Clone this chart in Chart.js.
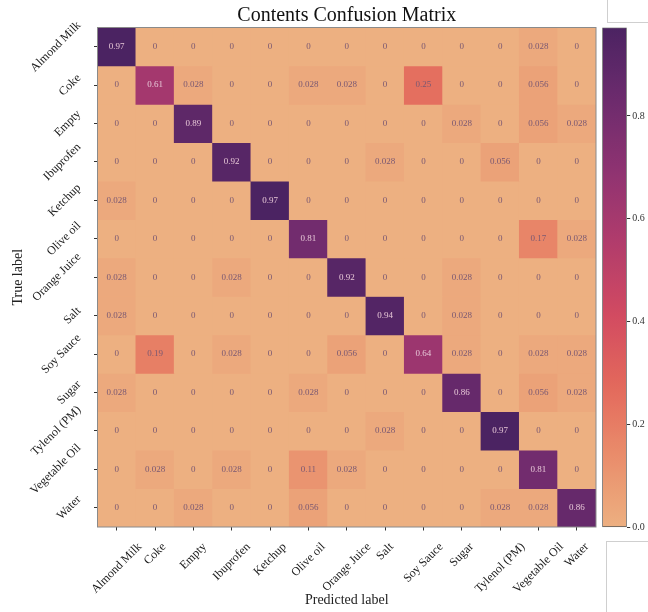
<!DOCTYPE html>
<html><head><meta charset="utf-8">
<script src="https://cdn.jsdelivr.net/npm/chart.js@4.4.1/dist/chart.umd.min.js"></script>
<style>
html,body{margin:0;padding:0;background:#fff;}
#wrap{position:relative;width:648px;height:612px;overflow:hidden;background:#fff;}
#main{position:absolute;left:0;top:0;}
#cbar{position:absolute;left:596px;top:0;}
.box1{position:absolute;left:607px;top:-2px;width:60px;height:24px;border-left:1px solid #cfcfcf;border-bottom:1px solid #cfcfcf;}
.box2{position:absolute;left:606px;top:541px;width:60px;height:90px;border-left:1px solid #cfcfcf;border-top:1px solid #cfcfcf;}
</style></head><body>
<div id="wrap">
<canvas id="main" width="648" height="612"></canvas>
<canvas id="cbar" width="52" height="612"></canvas>
<div class="box1"></div><div class="box2"></div>
</div>
<script>
// ---- data ----
const predictedLabels = ['Almond Milk','Coke','Empty','Ibuprofen','Ketchup','Olive oil','Orange Juice','Salt','Soy Sauce','Sugar','Tylenol (PM)','Vegetable Oil','Water'];
const trueLabels = ['Almond Milk','Coke','Empty','Ibuprofen','Ketchup','Olive oil','Orange Juice','Salt','Soy Sauce','Sugar','Tylenol (PM)','Vegetable Oil','Water'];
const rowAlmondMilk   = [0.97,0,0,0,0,0,0,0,0,0,0,0.028,0];
const rowCoke         = [0,0.61,0.028,0,0,0.028,0.028,0,0.25,0,0,0.056,0];
const rowEmpty        = [0,0,0.89,0,0,0,0,0,0,0.028,0,0.056,0.028];
const rowIbuprofen    = [0,0,0,0.92,0,0,0,0.028,0,0,0.056,0,0];
const rowKetchup      = [0.028,0,0,0,0.97,0,0,0,0,0,0,0,0];
const rowOliveOil     = [0,0,0,0,0,0.81,0,0,0,0,0,0.17,0.028];
const rowOrangeJuice  = [0.028,0,0,0.028,0,0,0.92,0,0,0.028,0,0,0];
const rowSalt         = [0.028,0,0,0,0,0,0,0.94,0,0.028,0,0,0];
const rowSoySauce     = [0,0.19,0,0.028,0,0,0.056,0,0.64,0.028,0,0.028,0.028];
const rowSugar        = [0.028,0,0,0,0,0.028,0,0,0,0.86,0,0.056,0.028];
const rowTylenol      = [0,0,0,0,0,0,0,0.028,0,0,0.97,0,0];
const rowVegetableOil = [0,0.028,0,0.028,0,0.11,0.028,0,0,0,0,0.81,0];
const rowWater        = [0,0,0.028,0,0,0.056,0,0,0,0,0.028,0.028,0.86];
const matrix = [rowAlmondMilk,rowCoke,rowEmpty,rowIbuprofen,rowKetchup,rowOliveOil,rowOrangeJuice,rowSalt,rowSoySauce,rowSugar,rowTylenol,rowVegetableOil,rowWater];
const cbTicks = [0,0.2,0.4,0.6,0.8];
const cbMax = 0.972;

// ---- style ----
const SERIF = '"Liberation Serif","DejaVu Serif",serif';
const FLARE = [[0,237,176,129],[0.143,233,141,107],[0.286,227,104,92],[0.429,209,74,97],[0.571,177,60,108],[0.714,143,51,113],[0.857,108,43,109],[1,75,35,98]];
function cmap(t){
  t = Math.max(0, Math.min(1, t));
  for (let i = 1; i < FLARE.length; i++) {
    if (t <= FLARE[i][0]) {
      const a = FLARE[i-1], b = FLARE[i];
      const f = (t - a[0]) / (b[0] - a[0]);
      const c = [1,2,3].map(k => Math.round(a[k] + (b[k]-a[k])*f));
      return `rgb(${c[0]},${c[1]},${c[2]})`;
    }
  }
  return 'rgb(75,35,98)';
}
function fmt(v){ return String(Number(v.toPrecision(2))); }

const decor = {
  id: 'decor',
  beforeDatasetsDraw(chart){
    const {ctx, chartArea:a} = chart;
    ctx.save(); ctx.fillStyle = cmap(0);
    ctx.fillRect(a.left, a.top, a.right-a.left, a.bottom-a.top);
    ctx.restore();
  },
  afterDatasetsDraw(chart){
    const {ctx, chartArea:a, scales:{x, y}} = chart;
    ctx.save();
    // annotations
    ctx.font = '9px ' + SERIF;
    ctx.textAlign = 'center'; ctx.textBaseline = 'middle';
    chart.data.datasets.forEach((ds, r) => {
      const meta = chart.getDatasetMeta(r);
      meta.data.forEach((el, c) => {
        const v = ds.values[c];
        ctx.fillStyle = v > 0.5 ? '#e6c6d6' : '#7a5872';
        ctx.fillText(fmt(v), el.x, (el.y + el.base)/2);
      });
    });
    // spine
    ctx.strokeStyle = '#8a8a8a'; ctx.lineWidth = 1;
    ctx.strokeRect(a.left, a.top, a.right-a.left, a.bottom-a.top);
    // tick labels
    ctx.font = '12px ' + SERIF; ctx.fillStyle = '#1a1a1a';
    const h = 12 * 1.05, s = Math.SQRT1_2;
    predictedLabels.forEach((lab, i) => {
      const w = ctx.measureText(lab).width;
      const cx = x.getPixelForValue(i);
      const cy = a.bottom + 13.5 + (w + h) * s / 2;
      ctx.save(); ctx.translate(cx, cy); ctx.rotate(-Math.PI/4);
      ctx.fillText(lab, 0, 0); ctx.restore();
    });
    trueLabels.forEach((lab, i) => {
      const w = ctx.measureText(lab).width;
      const cy = y.getPixelForValue(i + 0.5);
      const cx = a.left - 14 - (w + h) * s / 2;
      ctx.save(); ctx.translate(cx, cy); ctx.rotate(-Math.PI/4);
      ctx.fillText(lab, 0, 0); ctx.restore();
    });
    // title
    ctx.font = '20px ' + SERIF; ctx.fillStyle = '#111';
    ctx.fillText('Contents Confusion Matrix', (a.left + a.right)/2, 16);
    ctx.restore();
  }
};

const datasets = matrix.map((row, r) => ({
  label: trueLabels[r],
  data: row.map(() => [r, r + 1]),
  values: row,
  backgroundColor: row.map(v => cmap(v / cbMax)),
  borderWidth: 0,
  barPercentage: 1,
  categoryPercentage: 1,
  grouped: false
}));

const tickGrid = {display:true, offset:false, drawOnChartArea:false, drawTicks:true, tickLength:3.5, tickColor:'#333', tickWidth:1};

new Chart(document.getElementById('main'), {
  type: 'bar',
  data: { labels: predictedLabels, datasets },
  options: {
    responsive: false, animation: false,
    layout: { padding: { top: 27.5, right: 52, left: 0, bottom: 0 } },
    plugins: { legend: {display:false}, tooltip: {enabled:false}, title: {display:false} },
    scales: {
      x: {
        type: 'category', offset: true, grid: tickGrid, border: {display:false},
        ticks: {display:false},
        title: {display:true, text:'Predicted label', color:'#222', font:{family:SERIF, size:14}, padding:{top:0, bottom:3.6}},
        afterFit(s){ s.height = 85; }
      },
      y: {
        type: 'linear', min: 0, max: trueLabels.length, reverse: true,
        afterBuildTicks(s){ s.ticks = trueLabels.map((_, i) => ({value: i + 0.5})); },
        grid: tickGrid, border: {display:false},
        ticks: {display:false},
        title: {display:true, text:'True label', color:'#222', font:{family:SERIF, size:14}, padding:{top:9.6, bottom:0}},
        afterFit(s){ s.width = 97.5; }
      }
    }
  },
  plugins: [decor]
});

new Chart(document.getElementById('cbar'), {
  type: 'bar',
  data: { labels: [''], datasets: [{
    data: [[0, cbMax]],
    backgroundColor(c){
      const a = c.chart.chartArea;
      if (!a) return cmap(0);
      const g = c.chart.ctx.createLinearGradient(0, a.bottom, 0, a.top);
      for (let i = 0; i <= 40; i++) g.addColorStop(i/40, cmap(i/40));
      return g;
    },
    borderColor: '#555', borderWidth: 1, borderSkipped: false,
    barPercentage: 1, categoryPercentage: 1
  }]},
  options: {
    responsive: false, animation: false,
    layout: { padding: { left: 6.3, top: 27.5, bottom: 84.5, right: 0 } },
    plugins: { legend: {display:false}, tooltip: {enabled:false} },
    scales: {
      x: { display: false },
      y: {
        position: 'right', min: 0, max: cbMax,
        afterBuildTicks(s){ s.ticks = cbTicks.map(v => ({value: v})); },
        ticks: { callback: v => v.toFixed(1), font: {family: SERIF, size: 10}, color: '#333', padding: 2 },
        grid: { drawOnChartArea: false, drawTicks: true, tickLength: 3.5, tickColor: '#333' },
        border: { display: false },
        afterFit(s){ s.width = 21.3; }
      }
    }
  }
});
</script>
</body></html>
